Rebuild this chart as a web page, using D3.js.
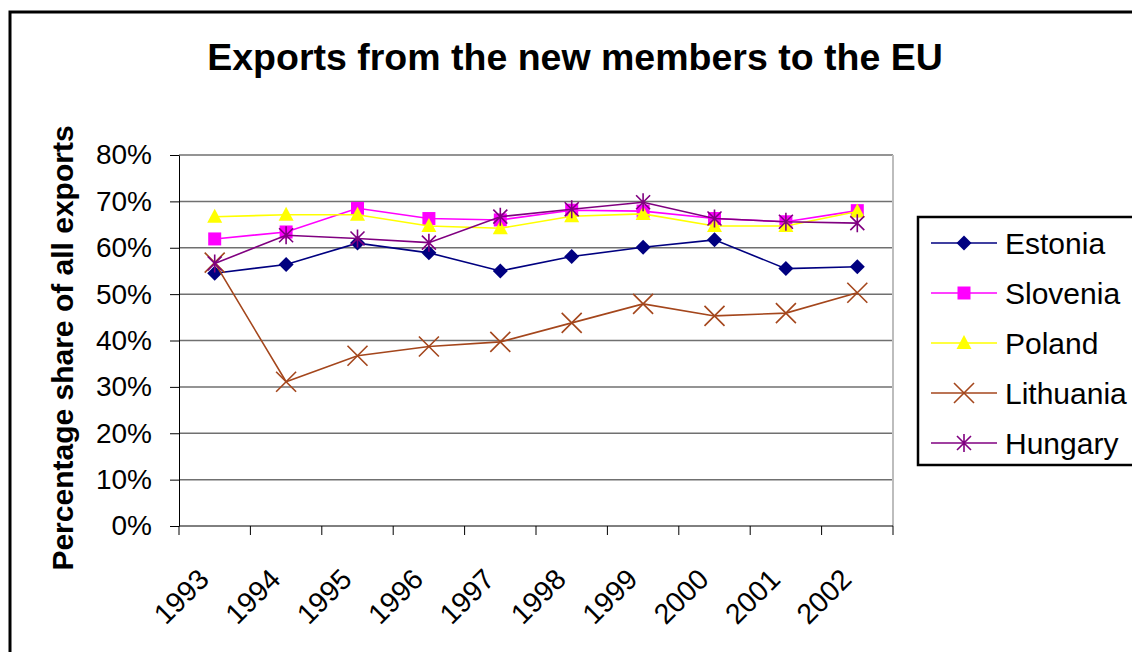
<!DOCTYPE html>
<html>
<head>
<meta charset="utf-8">
<script src="https://cdn.jsdelivr.net/npm/d3@7"></script>
<style>
  body { margin: 0; background: #fff; }
  svg { display: block; font-family: "Liberation Sans", Arial, sans-serif; }
</style>
</head>
<body>
<svg id="chart" width="1132" height="652"></svg>
<script>
// values (percent share of exports going to the EU)
const years = ["1993", "1994", "1995", "1996", "1997", "1998", "1999", "2000", "2001", "2002"];
const estonia   = [54.5, 56.4, 61.0, 58.9, 55.0, 58.1, 60.1, 61.7, 55.5, 55.9];
const slovenia  = [61.9, 63.4, 68.5, 66.3, 66.0, 68.1, 67.9, 66.3, 65.6, 68.0];
const poland    = [66.7, 67.1, 67.1, 64.7, 64.2, 66.8, 67.3, 64.7, 64.7, 67.8];
const lithuania = [56.8, 31.1, 36.7, 38.7, 39.7, 43.8, 47.9, 45.3, 45.9, 50.3];
const hungary   = [56.6, 62.7, 62.0, 61.1, 66.7, 68.3, 69.8, 66.3, 65.6, 65.3];
const yTicks = [0, 10, 20, 30, 40, 50, 60, 70, 80];

const series = [
  { name: "Estonia",   values: estonia,   color: "#000080", marker: "diamond" },
  { name: "Slovenia",  values: slovenia,  color: "#ff00ff", marker: "square" },
  { name: "Poland",    values: poland,    color: "#ffff00", marker: "triangle" },
  { name: "Lithuania", values: lithuania, color: "#a4461c", marker: "cross" },
  { name: "Hungary",   values: hungary,   color: "#800080", marker: "star" }
];

const svg = d3.select("#chart");
const plot = { left: 179, right: 893, top: 155, bottom: 526 };

// outer chart border (runs off the right and bottom of the picture)
svg.append("rect")
  .attr("x", 10).attr("y", 12)
  .attr("width", 1140).attr("height", 660)
  .attr("fill", "#fff").attr("stroke", "#000").attr("stroke-width", 3);

const x = d3.scaleBand().domain(years).range([plot.left, plot.right]);
const y = d3.scaleLinear().domain([0, 80]).range([plot.bottom, plot.top]);
const cx = d => x(d) + x.bandwidth() / 2;

// gridlines
svg.append("g")
  .selectAll("line")
  .data(yTicks.filter(d => d > 0))
  .join("line")
  .attr("x1", plot.left).attr("x2", plot.right)
  .attr("y1", d => y(d)).attr("y2", d => y(d))
  .attr("stroke", "#707070").attr("stroke-width", 1.5);

// right edge of plot area
svg.append("line")
  .attr("x1", plot.right).attr("x2", plot.right)
  .attr("y1", plot.top).attr("y2", plot.bottom)
  .attr("stroke", "#bdbdbd").attr("stroke-width", 2);

// y axis
const yAxis = svg.append("g")
  .attr("transform", `translate(${plot.left},0)`)
  .call(d3.axisLeft(y).tickValues(yTicks).tickFormat(d => d + "%")
    .tickSize(9).tickSizeOuter(0).tickPadding(18));
yAxis.select(".domain").attr("stroke", "#000");
yAxis.selectAll("text").attr("font-size", 28).attr("fill", "#000")
  .attr("font-family", "Liberation Sans, Arial, sans-serif");

// x axis: ticks at category boundaries, labels at centres
svg.append("line")
  .attr("x1", plot.left).attr("x2", plot.right)
  .attr("y1", plot.bottom).attr("y2", plot.bottom)
  .attr("stroke", "#000");
svg.append("g")
  .selectAll("line")
  .data(years.map(d => x(d)).concat([plot.right]))
  .join("line")
  .attr("x1", d => d).attr("x2", d => d)
  .attr("y1", plot.bottom).attr("y2", plot.bottom + 9)
  .attr("stroke", "#000");
svg.append("g")
  .selectAll("text")
  .data(years)
  .join("text")
  .attr("transform", d => `translate(${cx(d) - 4},${plot.bottom + 55}) rotate(-45)`)
  .attr("text-anchor", "end")
  .attr("font-size", 28.5)
  .text(d => d);

// markers
function markerPath(type) {
  const p = d3.path();
  if (type === "diamond") {
    p.moveTo(0, -7.5); p.lineTo(7.5, 0); p.lineTo(0, 7.5); p.lineTo(-7.5, 0); p.closePath();
  } else if (type === "square") {
    p.rect(-6.5, -6.5, 13, 13);
  } else if (type === "triangle") {
    p.moveTo(0, -8); p.lineTo(7.5, 6); p.lineTo(-7.5, 6); p.closePath();
  } else if (type === "cross") {
    p.moveTo(-10, -10); p.lineTo(10, 10); p.moveTo(10, -10); p.lineTo(-10, 10);
  } else if (type === "star") {
    p.moveTo(-7, -7); p.lineTo(7, 7); p.moveTo(7, -7); p.lineTo(-7, 7);
    p.moveTo(0, -9); p.lineTo(0, 9);
  }
  return p.toString();
}
const filled = t => t === "diamond" || t === "square" || t === "triangle";

const line = d3.line().x((d, i) => cx(years[i])).y(d => y(d));

series.forEach(s => {
  const g = svg.append("g");
  g.append("path")
    .attr("d", line(s.values))
    .attr("fill", "none")
    .attr("stroke", s.color)
    .attr("stroke-width", 1.6);
  g.selectAll("path.m")
    .data(s.values)
    .join("path")
    .attr("class", "m")
    .attr("transform", (d, i) => `translate(${cx(years[i])},${y(d)})`)
    .attr("d", markerPath(s.marker))
    .attr("fill", filled(s.marker) ? s.color : "none")
    .attr("stroke", s.color)
    .attr("stroke-width", filled(s.marker) ? 0 : 1.6);
});

// title
svg.append("text")
  .attr("x", 575).attr("y", 70)
  .attr("text-anchor", "middle")
  .attr("font-size", 37.5).attr("font-weight", "bold")
  .text("Exports from the new members to the EU");

// y axis title
svg.append("text")
  .attr("transform", "translate(73,348) rotate(-90)")
  .attr("text-anchor", "middle")
  .attr("font-size", 30).attr("font-weight", "bold")
  .text("Percentage share of all exports");

// legend
const legend = svg.append("g");
legend.append("rect")
  .attr("x", 918).attr("y", 217)
  .attr("width", 240).attr("height", 248)
  .attr("fill", "#fff").attr("stroke", "#000").attr("stroke-width", 2.5);
const legendY = d3.scalePoint().domain(series.map(s => s.name)).range([243, 443]);
series.forEach(s => {
  const ly = legendY(s.name);
  legend.append("line")
    .attr("x1", 931).attr("x2", 997).attr("y1", ly).attr("y2", ly)
    .attr("stroke", s.color).attr("stroke-width", 1.6);
  legend.append("path")
    .attr("transform", `translate(964,${ly})`)
    .attr("d", markerPath(s.marker))
    .attr("fill", filled(s.marker) ? s.color : "none")
    .attr("stroke", s.color)
    .attr("stroke-width", filled(s.marker) ? 0 : 1.6);
  legend.append("text")
    .attr("x", 1005).attr("y", ly).attr("dy", "0.36em")
    .attr("font-size", 30)
    .text(s.name);
});
</script>
</body>
</html>
